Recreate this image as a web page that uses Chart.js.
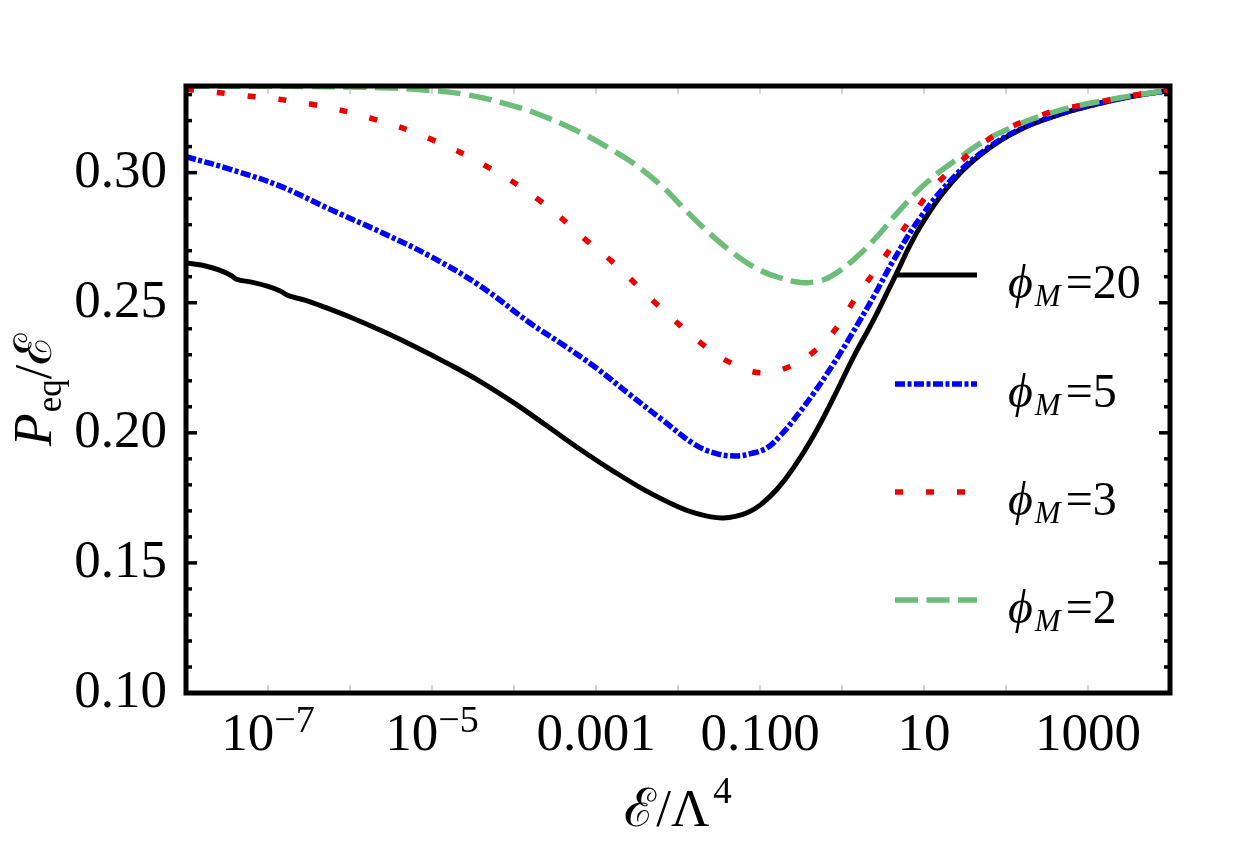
<!DOCTYPE html>
<html>
<head>
<meta charset="utf-8">
<script src="https://cdn.jsdelivr.net/npm/chart.js@4.4.1/dist/chart.umd.min.js"></script>
<style>
html,body{margin:0;padding:0;background:#ffffff;}
#wrap{width:1250px;height:844px;}
</style>
</head>
<body>
<div id="wrap"><canvas id="c" width="1250" height="844"></canvas></div>
<script>
// ---------- data (x stored as log10 of E/Lambda^4) ----------
const seriesLabels = ['20', '5', '3', '2'];

const logE_20 = [-8, -7.8, -7.6, -7.45, -7.38, -7.2, -7.0, -6.85, -6.75, -6.55, -6.3, -6.0, -5.6, -5.2, -4.8, -4.4, -4.0, -3.6, -3.2, -2.8, -2.4, -2.0, -1.8, -1.6, -1.45, -1.3, -1.15, -0.99, -0.79, -0.59, -0.345, -0.10, 0.14, 0.385, 0.63, 0.95, 1.36, 1.77, 2.17, 2.6, 3.0, 3.5, 4.0];
const P_20 = [0.2653, 0.2644, 0.2626, 0.2605, 0.2590, 0.2579, 0.2563, 0.2545, 0.2527, 0.2510, 0.2482, 0.2445, 0.2390, 0.2330, 0.2265, 0.2195, 0.2115, 0.2027, 0.1938, 0.1855, 0.1779, 0.1716, 0.1692, 0.1677, 0.1673, 0.1679, 0.1694, 0.1724, 0.1784, 0.1866, 0.1990, 0.2137, 0.2291, 0.2434, 0.2590, 0.2790, 0.2970, 0.3088, 0.3165, 0.3218, 0.3255, 0.3291, 0.3316];

const logE_5 = [-8, -7.45, -6.85, -6.25, -5.6, -5.0, -4.4, -3.8, -3.4, -3.0, -2.6, -2.2, -1.8, -1.55, -1.3, -1.1, -0.91, -0.75, -0.59, -0.345, -0.10, 0.10, 0.385, 0.63, 0.95, 1.36, 1.77, 2.17, 2.6, 3.0, 3.5, 4.0];
const P_5 = [0.3061, 0.3012, 0.2948, 0.2860, 0.2768, 0.2675, 0.2562, 0.2421, 0.2338, 0.2250, 0.2150, 0.2052, 0.1956, 0.1922, 0.1911, 0.1921, 0.1943, 0.1990, 0.2049, 0.2152, 0.2267, 0.2369, 0.2523, 0.2664, 0.2825, 0.2982, 0.3093, 0.3167, 0.3219, 0.3256, 0.3292, 0.3316];

const logE_3 = [-8, -7.25, -6.45, -5.7, -5.0, -4.3, -3.67, -3.1, -2.8, -2.25, -1.7, -1.35, -1.0, -0.65, -0.32, -0.05, 0.15, 0.37, 0.6, 0.8, 1.03, 1.28, 1.85, 2.55, 3.0, 3.6, 4.0];
const P_3 = [0.3321, 0.3295, 0.3262, 0.3205, 0.3127, 0.3018, 0.2889, 0.2735, 0.2657, 0.2492, 0.2340, 0.2268, 0.2231, 0.2253, 0.2318, 0.2410, 0.2510, 0.2608, 0.2712, 0.2805, 0.2910, 0.2995, 0.3140, 0.3234, 0.3263, 0.3300, 0.3317];

const logE_2 = [-8, -7, -6.5, -6, -5.6, -5.2, -4.6, -4.0, -3.6, -3.15, -2.82, -2.5, -2.18, -1.9, -1.62, -1.33, -1.05, -0.76, -0.5, -0.3, -0.14, 0.14, 0.43, 0.71, 1.03, 1.44, 1.89, 2.58, 3.39, 4.0];
const P_2 = [0.3332, 0.3332, 0.3331, 0.3329, 0.3326, 0.3320, 0.3301, 0.3256, 0.3212, 0.3148, 0.3090, 0.3026, 0.2943, 0.2853, 0.2768, 0.2692, 0.2633, 0.2596, 0.2578, 0.2582, 0.2600, 0.2665, 0.2755, 0.2858, 0.2961, 0.3060, 0.3148, 0.3233, 0.3288, 0.3317];

// axis ranges and tick labels
const xMin = 1e-8, xMax = 1e4;
const yMin = 0.10, yMax = 0.3333;
const xTickValues = [1e-7, 1e-5, 1e-3, 1e-1, 10, 1000];
const xTickBase = ['10', '10', '0.001', '0.100', '10', '1000'];
const xTickExp = ['\u22127', '\u22125', '', '', '', ''];
const xDecadeExps = [-7, -6, -5, -4, -3, -2, -1, 0, 1, 2, 3];
const yMajorStep = 0.05;
const yMinorStep = 0.01;

// ---------- build ----------
const SERIF = '"Liberation Serif", "DejaVu Serif", serif';
function pts(lx, ly) { return lx.map((l, i) => ({ x: Math.pow(10, l), y: ly[i] })); }

const datasets = [
  { label: seriesLabels[0], data: pts(logE_20, P_20), borderColor: '#000000', borderWidth: 5, borderDash: [], order: 4 },
  { label: seriesLabels[1], data: pts(logE_5, P_5), borderColor: '#0000ff', borderWidth: 5.5, borderDash: [10, 2.5, 4, 2.5], order: 3 },
  { label: seriesLabels[2], data: pts(logE_3, P_3), borderColor: '#ee0000', borderWidth: 5.5, borderDash: [8, 23], order: 1 },
  { label: seriesLabels[3], data: pts(logE_2, P_2), borderColor: 'rgb(108,189,122)', borderWidth: 5.5, borderDash: [23, 8.5], order: 2 }
];
datasets.forEach(d => { d.fill = false; d.pointRadius = 0; d.tension = 0.4; d.borderCapStyle = 'butt'; d.borderJoinStyle = 'round'; });

function drawParts(ctx, parts, x, y, align) {
  let w = 0;
  parts.forEach(p => { ctx.font = p.font; p.w = ctx.measureText(p.t).width; w += p.w + (p.gap || 0); });
  let cx = align === 'center' ? x - w / 2 : x;
  parts.forEach(p => {
    ctx.font = p.font;
    ctx.fillText(p.t, cx, y + (p.dy || 0));
    cx += p.w + (p.gap || 0);
  });
}

const decor = {
  id: 'decor',
  afterDatasetsDraw(chart) {
    const ctx = chart.ctx, a = chart.chartArea, xs = chart.scales.x, ys = chart.scales.y;
    ctx.save();
    ctx.setLineDash([]);
    // faint decade ticks top & bottom
    ctx.strokeStyle = '#c9c9c9'; ctx.lineWidth = 1.5;
    xDecadeExps.forEach(e => {
      const px = xs.getPixelForValue(Math.pow(10, e));
      ctx.beginPath(); ctx.moveTo(px, a.top); ctx.lineTo(px, a.top + 8); ctx.stroke();
      ctx.beginPath(); ctx.moveTo(px, a.bottom); ctx.lineTo(px, a.bottom - 8); ctx.stroke();
    });
    // y ticks left & right (inward)
    ctx.strokeStyle = '#000'; ctx.lineWidth = 3.5;
    const n = Math.floor((yMax - yMin) / yMinorStep + 1e-9);
    for (let i = 0; i <= n; i++) {
      const v = yMin + i * yMinorStep;
      const py = ys.getPixelForValue(v);
      const len = (i % Math.round(yMajorStep / yMinorStep) === 0) ? 11 : 6;
      ctx.beginPath(); ctx.moveTo(a.left, py); ctx.lineTo(a.left + len, py); ctx.stroke();
      ctx.beginPath(); ctx.moveTo(a.right, py); ctx.lineTo(a.right - len, py); ctx.stroke();
    }
    // frame
    ctx.lineWidth = 5;
    ctx.strokeRect(a.left, a.top, a.right - a.left, a.bottom - a.top);

    ctx.fillStyle = '#000';
    ctx.textBaseline = 'alphabetic';
    // x tick labels
    xTickValues.forEach((v, i) => {
      const px = xs.getPixelForValue(v);
      const parts = [{ t: xTickBase[i], font: '53px ' + SERIF }];
      if (xTickExp[i]) parts.push({ t: xTickExp[i], font: '38px ' + SERIF, dy: -18 });
      drawParts(ctx, parts, px, a.bottom + 57, 'center');
    });
    // x title
    drawParts(ctx, [
      { t: '\u2130/\u039B', font: '53px ' + SERIF, gap: 4 },
      { t: '4', font: '37px ' + SERIF, dy: -23 }
    ], (a.left + a.right) / 2, 826, 'center');
    // y title
    ctx.save();
    ctx.translate(51, 390);
    ctx.rotate(-Math.PI / 2);
    drawParts(ctx, [
      { t: 'P', font: 'italic 54px ' + SERIF, gap: 1 },
      { t: 'eq', font: '35px ' + SERIF, dy: 10 },
      { t: '/\u2130', font: '52px ' + SERIF }
    ], 0, 0, 'center');
    ctx.restore();

    // legend
    const rows = [275, 384, 492, 600];
    chart.data.datasets.forEach((d, i) => {
      const y = rows[i];
      ctx.save();
      ctx.strokeStyle = d.borderColor; ctx.lineWidth = d.borderWidth;
      ctx.setLineDash(d.borderDash || []);
      ctx.lineCap = 'butt';
      ctx.beginPath(); ctx.moveTo(895, y); ctx.lineTo(977, y); ctx.stroke();
      ctx.restore();
      drawParts(ctx, [
        { t: '\u03D5', font: 'italic 48px ' + SERIF, gap: 2 },
        { t: 'M', font: 'italic 31px ' + SERIF, dy: 8, gap: 5 },
        { t: '=' + seriesLabels[i], font: '48px ' + SERIF }
      ], 1008, y + 23, 'left');
    });
    ctx.restore();
  }
};

new Chart(document.getElementById('c').getContext('2d'), {
  type: 'line',
  data: { datasets: datasets },
  options: {
    responsive: false,
    devicePixelRatio: 1,
    animation: false,
    layout: { padding: { top: 86, right: 80, left: 0, bottom: 0 } },
    plugins: { legend: { display: false }, tooltip: { enabled: false } },
    elements: { point: { radius: 0 } },
    scales: {
      x: {
        type: 'logarithmic', min: xMin, max: xMax,
        grid: { display: false }, border: { display: false },
        ticks: { display: false },
        afterFit(s) { s.height = 151; }
      },
      y: {
        type: 'linear', min: yMin, max: yMax,
        grid: { display: false }, border: { display: false },
        ticks: {
          stepSize: yMajorStep, includeBounds: false, padding: 11, color: '#000',
          font: { family: 'Liberation Serif', size: 53 },
          callback: v => v.toFixed(2)
        },
        afterFit(s) { s.width = 186; }
      }
    }
  },
  plugins: [decor]
});
</script>
</body>
</html>
